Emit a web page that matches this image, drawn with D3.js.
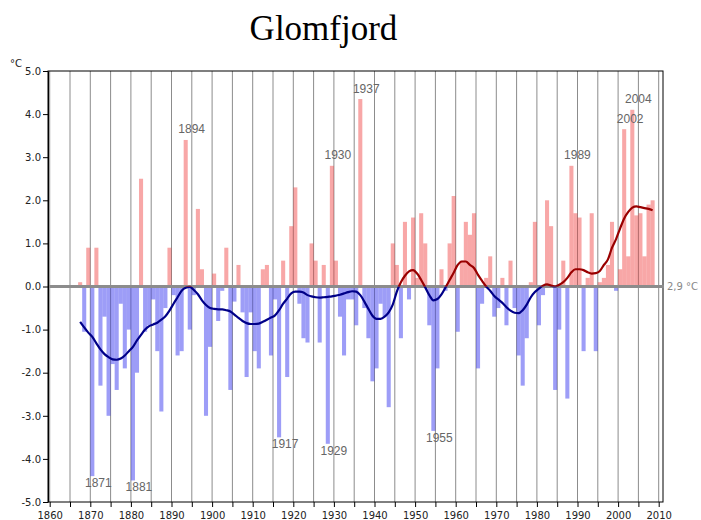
<!DOCTYPE html>
<html lang="en">
<head>
<meta charset="UTF-8">
<title>Glomfjord</title>
<script src="https://cdn.jsdelivr.net/npm/d3@7"></script>
<style>
  body { margin: 0; background: #fff; }
  text { font-family: 'DejaVu Sans', sans-serif; }
  .title { font-family: 'Liberation Serif', 'Times New Roman', serif; font-size: 35px; text-anchor: middle; fill: #000; }
  .year-label { font-family: 'Liberation Sans', sans-serif; font-size: 12px; fill: #666; text-anchor: middle; }
</style>
</head>
<body>
<script>
const width = 701, height = 520;

// yearly deviation from normal (2,9 °C), 1868-2009
const years = d3.range(1868, 2010);
const anomaly = [
   0.1, -1.05,  0.9, -4.4,  0.9, -2.3, -0.7, -3.0, -1.8, -2.4,
  -0.4, -1.9,  -1.0, -4.5, -2.0,  2.5, -1.05, -0.9, -0.3, -1.5,
  -2.9, -0.5,   0.9, -0.2, -1.6, -1.5,  3.4, -1.0, -0.2,  1.8,
   0.4, -3.0,  -1.4,  0.3, -0.8, -0.1,  0.9, -2.4, -0.35, 0.5,
  -0.6, -2.1,  -0.6, -1.5, -1.9,  0.4,  0.5, -1.6, -0.3, -3.5,
   0.6, -2.1,   1.4,  2.3, -0.4, -1.2, -1.3,  1.0,  0.6, -1.3,
   0.5, -3.65,  2.8,  0.6, -0.7, -1.6, -0.3, -0.3, -0.9,  4.35,
  -0.5, -1.2,  -2.2, -1.9, -0.4, -0.7, -2.8,  1.0,  0.5, -1.2,
   1.5, -0.3,   1.6,  0.2,  1.7,  1.0, -0.9, -3.35, -1.9, 0.4,
  -0.1,  1.0,   2.1, -1.05, 0.6,  1.5,  1.2,  1.7, -1.9, -0.4,
   0.2,  0.7,  -0.7, -0.5,  0.2, -0.9,  0.6, -0.5, -1.6, -2.3,
  -1.2,  0.1,   1.5, -0.9, -0.2,  2.0,  1.4, -2.4, -1.0,  0.6,
  -2.6,  2.8,   1.7,  1.6, -1.5,  0.2,  1.7, -1.5,  0.1,  0.2,
   0.5,  1.5,  -0.1,  0.4,  3.65, 0.7,  4.1,  1.65, 1.7, 0.7,
   1.9,  2.0
];
// smoothed curve, same years
const trend = [
  -0.82, -0.95, -1.07, -1.17, -1.32, -1.46, -1.57, -1.64, -1.69, -1.70,
  -1.67, -1.60, -1.50, -1.40, -1.25, -1.12, -1.00, -0.92, -0.88, -0.84,
  -0.77, -0.69, -0.56, -0.40, -0.25, -0.10, -0.03, -0.01, -0.08, -0.18,
  -0.32, -0.43, -0.50, -0.52, -0.53, -0.53, -0.55, -0.58, -0.65, -0.73,
  -0.80, -0.85, -0.87, -0.87, -0.86, -0.82, -0.77, -0.72, -0.67, -0.55,
  -0.40, -0.28, -0.16, -0.12, -0.12, -0.14, -0.20, -0.23, -0.25, -0.26,
  -0.25, -0.24, -0.23, -0.21, -0.19, -0.16, -0.13, -0.11, -0.12, -0.20,
  -0.35, -0.52, -0.68, -0.75, -0.75, -0.70, -0.60, -0.42, -0.12,  0.10,
   0.25,  0.35,  0.38,  0.30,  0.15, -0.02, -0.20, -0.32, -0.29, -0.18,
  -0.02,  0.15,  0.32,  0.50,  0.58,  0.58,  0.50,  0.43,  0.27,  0.13,
   0.00, -0.10, -0.22, -0.30, -0.38, -0.48, -0.56, -0.61, -0.62, -0.55,
  -0.42, -0.25, -0.13, -0.05,  0.02,  0.05,  0.02,  0.00,  0.04,  0.10,
   0.20,  0.33,  0.40,  0.40,  0.38,  0.33,  0.30,  0.31,  0.36,  0.50,
   0.63,  0.90,  1.10,  1.35,  1.58,  1.73,  1.83,  1.86,  1.84,  1.82,
   1.80,  1.77
];
const labelYears = [1871, 1881, 1894, 1917, 1929, 1930, 1937, 1955, 1989, 2002, 2004];
const yTicks = [5, 4, 3, 2, 1, 0, -1, -2, -3, -4, -5];
const gridYears = d3.range(1860, 2011, 5);

const frameLeft = 48, frameRight = 663;

const x = d3.scaleLinear().domain([1860, 2010]).range([49.7, 658.7]);
const y = d3.scaleLinear().domain([-5, 5]).range([502, 71]);

const svg = d3.select("body").append("svg").attr("width", width).attr("height", height);

svg.append("text").attr("class", "title").attr("x", 323.5).attr("y", 40).text("Glomfjord");

svg.append("text").attr("x", 10).attr("y", 67).attr("font-size", 10).attr("fill", "#222").text("°C");

// vertical grid
svg.append("g").selectAll("line")
    .data(gridYears)
    .join("line")
    .attr("x1", d => x(d)).attr("x2", d => x(d))
    .attr("y1", y(5)).attr("y2", y(-5))
    .attr("stroke", "#8c8c8c").attr("stroke-width", 1);

// bars: year Y covers [Y-1, Y]
svg.append("g").selectAll("rect")
    .data(years)
    .join("rect")
    .attr("x", d => x(d - 1))
    .attr("width", d => x(d) - x(d - 1))
    .attr("y", (d, i) => y(Math.max(0, anomaly[i])))
    .attr("height", (d, i) => Math.abs(y(anomaly[i]) - y(0)))
    .attr("fill", (d, i) => anomaly[i] >= 0 ? "rgba(240,60,60,0.45)" : "rgba(60,60,240,0.5)");

// frame
svg.append("rect")
    .attr("x", frameLeft).attr("y", y(5))
    .attr("width", frameRight - frameLeft).attr("height", y(-5) - y(5))
    .attr("fill", "none").attr("stroke", "#000");

// zero line
svg.append("line")
    .attr("x1", frameLeft).attr("x2", frameRight + 1)
    .attr("y1", y(0)).attr("y2", y(0))
    .attr("stroke", "#8c8c8c").attr("stroke-width", 3);

svg.append("text")
    .attr("x", 667).attr("y", y(0) + 3.5)
    .attr("font-size", 10).attr("fill", "#888")
    .text("2,9 °C");

// axes
const yAxis = svg.append("g")
    .attr("transform", `translate(${frameLeft},0)`)
    .call(d3.axisLeft(y).tickValues(yTicks).tickFormat(d => d.toFixed(1)).tickSize(5).tickSizeOuter(0).tickPadding(2))
    .attr("font-family", "'DejaVu Sans', sans-serif").attr("font-size", 10);
yAxis.selectAll("text").attr("fill", "#222");

const xAxis = svg.append("g")
    .attr("transform", `translate(0,${y(-5)})`)
    .call(d3.axisBottom(x).tickValues(gridYears).tickFormat(d => d % 10 === 0 ? d : "").tickSize(5).tickPadding(5))
    .attr("font-family", "'DejaVu Sans', sans-serif").attr("font-size", 10);
xAxis.select(".domain").remove();
xAxis.selectAll("text").attr("fill", "#222");

// smoothed curve, red above zero and blue below
const defs = svg.append("defs");
defs.append("clipPath").attr("id", "above")
    .append("rect").attr("x", 0).attr("y", 0).attr("width", width).attr("height", y(0));
defs.append("clipPath").attr("id", "below")
    .append("rect").attr("x", 0).attr("y", y(0)).attr("width", width).attr("height", height - y(0));

const line = d3.line()
    .x((d, i) => x(years[i] - 0.5))
    .y(d => y(d))
    .curve(d3.curveMonotoneX);

svg.append("path").attr("d", line(trend))
    .attr("clip-path", "url(#below)")
    .attr("fill", "none").attr("stroke", "#000088").attr("stroke-width", 2.2);
svg.append("path").attr("d", line(trend))
    .attr("clip-path", "url(#above)")
    .attr("fill", "none").attr("stroke", "#990000").attr("stroke-width", 2.2);

// extreme year labels
svg.append("g").selectAll("text")
    .data(labelYears)
    .join("text")
    .attr("class", "year-label")
    .attr("x", d => x(d - 0.5) + 6)
    .attr("y", d => {
        const v = anomaly[years.indexOf(d)];
        return v > 0 ? y(v) - 6.5 : y(v) + 11;
    })
    .text(d => d);
</script>
</body>
</html>
